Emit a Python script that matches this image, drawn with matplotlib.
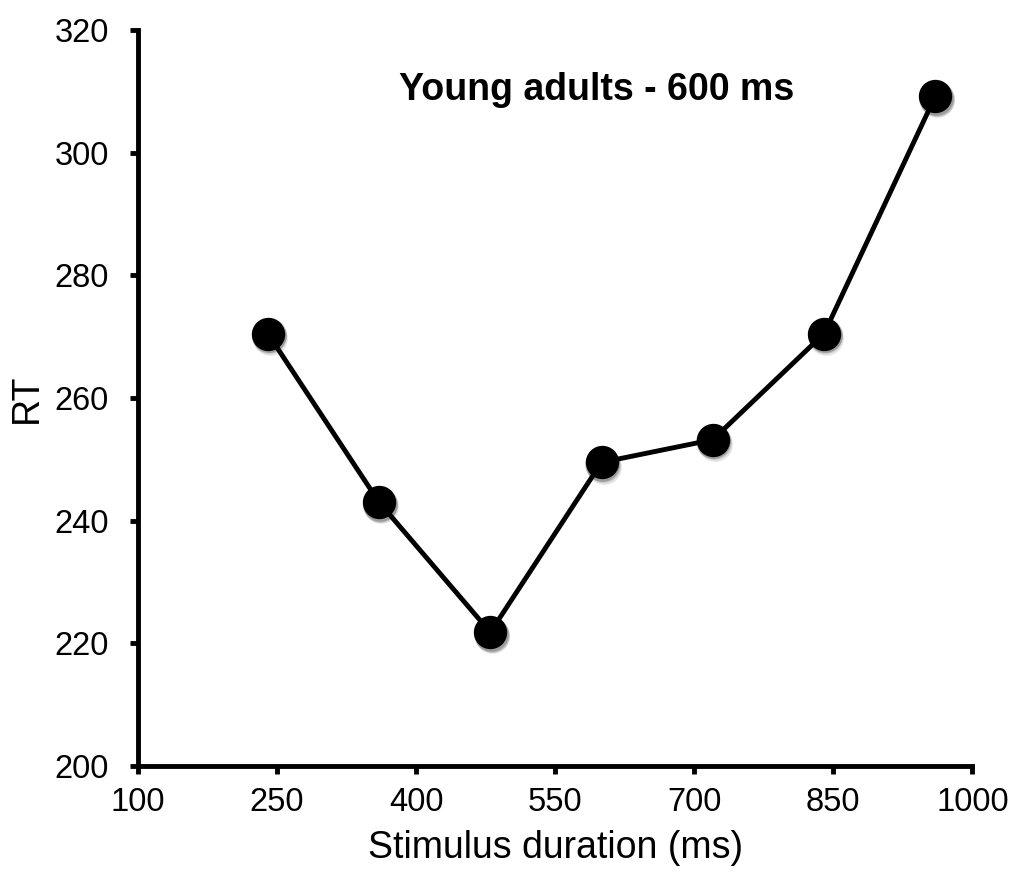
import matplotlib
matplotlib.use("Agg")
import matplotlib.pyplot as plt
import matplotlib.transforms as mtransforms

plt.rcParams['font.family'] = ['Liberation Sans', 'DejaVu Sans']

durations = [240, 360, 480, 600, 720, 840, 960]
rt = [270.5, 243.0, 221.8, 249.5, 253.2, 270.5, 309.2]
x_ticks = [100, 250, 400, 550, 700, 850, 1000]
y_ticks = [200, 220, 240, 260, 280, 300, 320]

fig = plt.figure(figsize=(10.15, 8.73), dpi=100)
ax = fig.add_axes([0.136, 0.1226, 0.822, 0.843])

# soft shadow under the markers
for dx, dy, a in [(1.5, -3.0, 0.10), (1.0, -2.0, 0.14), (0.5, -1.0, 0.2)]:
    shadow = mtransforms.offset_copy(ax.transData, fig=fig, x=dx, y=dy, units='points')
    ax.plot(durations, rt, 'o', color='black', markersize=25, alpha=a,
            markeredgewidth=0, transform=shadow, zorder=2)

ax.plot(durations, rt, '-', color='black', linewidth=3.5, zorder=3)
ax.plot(durations, rt, 'o', color='black', markersize=23, zorder=4)

ax.set_xlim(100, 1000)
ax.set_ylim(200, 320)
ax.set_xticks(x_ticks)
ax.set_yticks(y_ticks)
ax.tick_params(direction='out', length=6, width=3.5, labelsize=23.5)
ax.tick_params(axis='y', pad=15)
ax.tick_params(axis='x', pad=9)

for side in ['top', 'right']:
    ax.spines[side].set_visible(False)
for side in ['left', 'bottom']:
    ax.spines[side].set_linewidth(3.5)

ax.set_xlabel('Stimulus duration (ms)', fontsize=27, labelpad=9)
ax.set_ylabel('RT', fontsize=27, labelpad=7)
ax.text(0.55, 0.918, 'Young adults - 600 ms', transform=ax.transAxes,
        fontsize=27, fontweight='bold', ha='center', va='center')

fig.savefig('out.png', dpi=100)
